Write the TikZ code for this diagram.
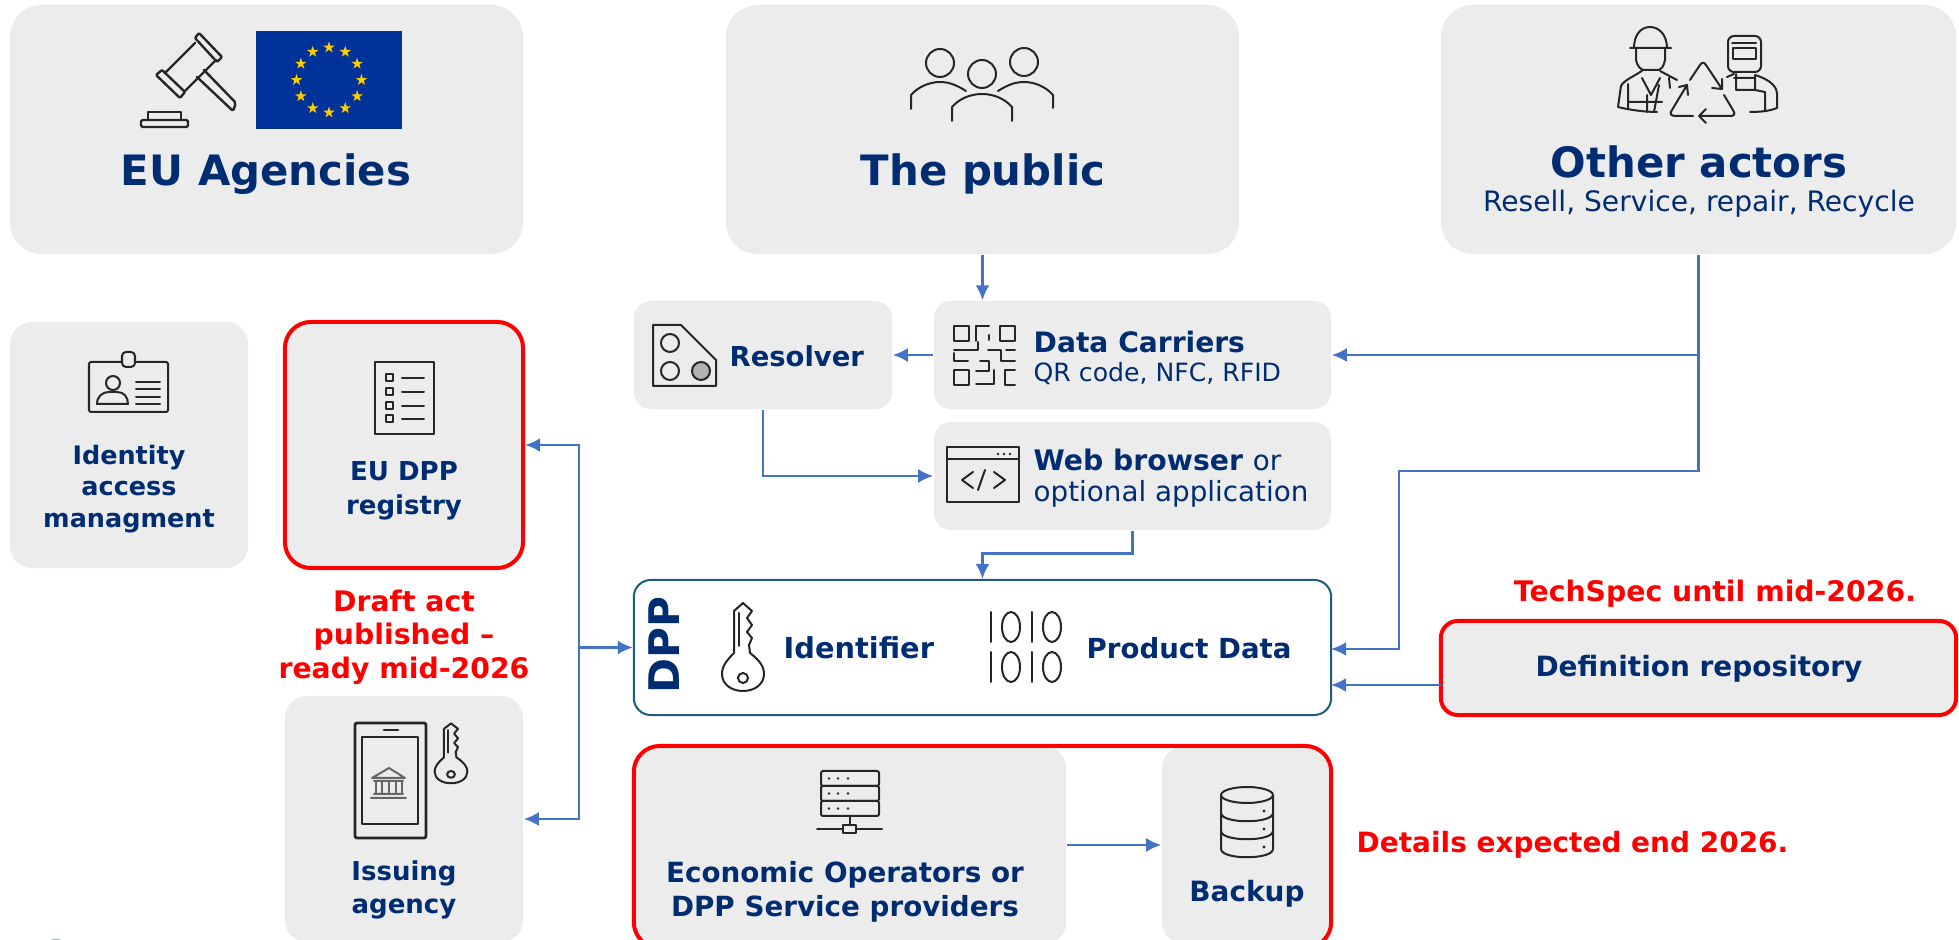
\documentclass[tikz,border=0pt]{standalone}
\usepackage{fontspec}
\setmainfont{DejaVu Sans}
\usepackage{xcolor}
\definecolor{navy}{HTML}{002D72}
\definecolor{boxgray}{HTML}{ECECEC}
\definecolor{flow}{HTML}{4472C4}
\definecolor{dppline}{HTML}{1F5C80}
\definecolor{euflag}{HTML}{003399}
\definecolor{eustar}{HTML}{FFCC00}
\usetikzlibrary{arrows.meta,shapes.geometric}
\tikzset{
  box/.style={fill=boxgray,rounded corners=0.17cm,inner sep=0pt},
  bigbox/.style={box,rounded corners=0.32cm},
  redbox/.style={box,draw=red,line width=0.04cm,rounded corners=0.26cm},
  title/.style={text=navy,font=\bfseries\fontsize{11.9}{14}\selectfont,inner sep=0pt},
  head/.style={text=navy,font=\bfseries\fontsize{7.9}{9.6}\selectfont,inner sep=0pt,align=center},
  sub/.style={text=navy,font=\fontsize{7.15}{9}\selectfont,inner sep=0pt},
  note/.style={text=red,font=\bfseries\fontsize{8.05}{9.5}\selectfont,inner sep=0pt,align=center},
  link/.style={draw=flow,line width=0.025cm,-{Latex[length=0.15cm,width=0.14cm]}},
  icon/.style={draw=black!85,line width=0.02cm,line join=round,line cap=round},
  pics/keyicon/.style={code={
    \draw[icon] (-9,-20) -- (-9,-62) -- (0,-70) -- (9,-62) -- (4,-55) -- (9,-48) -- (4,-41)
      -- (9,-35) -- (6,-28) -- (7,-20)
      .. controls (16,-13) and (21,-7) .. (21,1) .. controls (21,11) and (12,18) .. (0,18)
      .. controls (-12,18) and (-21,11) .. (-21,1) .. controls (-21,-7) and (-16,-13) .. (-9,-20);
    \draw[icon] (-4,-60) -- (-4,-27);
    \draw[icon] (0,5) circle (5);
  }}
}

\begin{document}
\begin{tikzpicture}[x=0.01cm,y=-0.01cm]
  \clip (0,0) rectangle (1959,940);

  % top row
  \node[bigbox,minimum width=5.13cm,minimum height=2.49cm] (agencies) at (266.5,129.5) {};
  \node[bigbox,minimum width=5.13cm,minimum height=2.49cm] (public) at (982.5,129.5) {};
  \node[bigbox,minimum width=5.15cm,minimum height=2.49cm] (actors) at (1698.5,129.5) {};
  \node[title] (agenciestext) at (266,174) {EU Agencies};
  \node[title] (publictext) at (983,174) {The public};
  \node[title] (actorstext) at (1699,162) {Other actors};
  \node[sub,font=\fontsize{8}{9}\selectfont] (actorssub) at (1699,204) {Resell, Service, repair, Recycle};

  % flag
  \fill[euflag] (256,31) rectangle (402,129);
  \foreach \i in {0,30,...,330}
    \node[star,star points=5,star point ratio=2.6,fill=eustar,inner sep=0pt,minimum size=0.12cm] (star\i) at ({329+32.5*cos(\i)},{80+32.5*sin(\i)}) {};

  % gavel
  \draw[icon,line width=0.024cm,rounded corners=0.01cm] (195,38) -- (199,33) -- (222,57) -- (217,62) -- cycle;
  \draw[icon,line width=0.024cm,rounded corners=0.01cm] (156,75) -- (162,70) -- (185,92) -- (180,98) -- cycle;
  \draw[icon,line width=0.024cm] (195,43) -- (166,72) (216,60) -- (185,91);
  \draw[icon,line width=0.024cm,rounded corners=0.02cm] (197,77) -- (233,111) -- (236,103) -- (204,70);
  \draw[icon,line width=0.024cm,rounded corners=0.015cm] (141,120) rectangle (188,127);
  \draw[icon,line width=0.024cm] (148,120) -- (148,112) -- (181,112) -- (181,120);

  % people
  \draw[icon] (940,63) circle (14) (982,74) circle (14) (1024,62) circle (14);
  \draw[icon] (911,109) -- (911,95) .. controls (918,87) and (929,82) .. (940,82) .. controls (950,82) and (958,86) .. (966,91);
  \draw[icon] (1053,108) -- (1053,95) .. controls (1046,87) and (1035,82) .. (1024,82) .. controls (1014,82) and (1006,86) .. (998,91);
  \draw[icon] (952,121) -- (952,107) .. controls (959,99) and (970,94) .. (982,94) .. controls (994,94) and (1005,99) .. (1012,107) -- (1012,121);

  % workers and recycling
  \draw[icon] (1630,48) -- (1671,48) (1634,48) .. controls (1634,36) and (1640,27) .. (1650,27) .. controls (1660,27) and (1667,36) .. (1667,48);
  \draw[icon] (1636,48) -- (1636,60) .. controls (1637,66) and (1641,70) .. (1644,70) -- (1658,70) .. controls (1661,70) and (1664,66) .. (1665,60) -- (1665,48);
  \draw[icon] (1643,70) .. controls (1635,76) and (1624,80) .. (1621,86) -- (1618,107) .. controls (1630,110) and (1645,112) .. (1657,112);
  \draw[icon] (1660,71) -- (1677,80) (1669,78) -- (1670,88);
  \draw[icon] (1628,84) -- (1628,108) (1642,78) -- (1651,95) -- (1660,78) (1647,95) -- (1647,112) (1659,85) -- (1654,112) (1628,102) -- (1662,102);
  \draw[icon,rounded corners=0.06cm] (1728,36) rectangle (1761,72);
  \draw[icon] (1732,43) -- (1756,43) (1733,48) rectangle (1756,59);
  \draw[icon] (1727,77) -- (1734,74) (1734,78) -- (1755,78) (1736,74) -- (1736,90) -- (1755,90) (1755,75) -- (1755,90) -- (1765,92) -- (1765,110);
  \draw[icon] (1755,75) .. controls (1768,79) and (1776,85) .. (1777,93) -- (1777,108) .. controls (1770,111) and (1760,112) .. (1750,112);
  \draw[icon] (1690,80) -- (1700,65) .. controls (1702,62) and (1704,62) .. (1706,65) -- (1722,89) (1712,88) -- (1722,89) -- (1722,79);
  \draw[icon] (1724,95) -- (1733,110) .. controls (1736,115) and (1734,116) .. (1729,116) -- (1699,116) (1706,109) -- (1699,116) -- (1706,123);
  \draw[icon] (1693,116) -- (1676,116) .. controls (1671,116) and (1669,114) .. (1672,110) -- (1687,85) (1679,87) -- (1687,85) -- (1688,95);

  % data side, middle column
  \node[box,minimum width=2.58cm,minimum height=1.08cm] (resolver) at (763,355) {};
  \node[box,minimum width=3.97cm,minimum height=1.08cm] (carriers) at (1132.5,355) {};
  \node[box,minimum width=3.97cm,minimum height=1.08cm] (browser) at (1132.5,476) {};
  \node[head,anchor=west,font=\bfseries\fontsize{7.8}{9.6}\selectfont] (resolvertext) at (729,356) {Resolver};
  \node[head,anchor=west,font=\bfseries\fontsize{8}{9.6}\selectfont] (carrierstext) at (1033,342) {Data Carriers};
  \node[sub,anchor=west] (carrierssub) at (1033,374) {QR code, NFC, RFID};
  \node[sub,anchor=west] (browsertext) at (1033,460) {\fontsize{8.05}{9}\selectfont\bfseries Web browser \fontsize{7.9}{9}\selectfont\mdseries or};
  \node[sub,anchor=west,font=\fontsize{7.9}{9}\selectfont] (browsersub) at (1033,494) {optional application};

  % resolver icon
  \draw[icon] (653,325) -- (681,325) -- (716,360) -- (716,386) -- (653,386) -- cycle;
  \draw[icon] (670,343) circle (9) (670,371) circle (9);
  \draw[icon,fill=black!30] (701,371) circle (9);

  % qr icon
  \draw[icon,line cap=butt] (954,326) rectangle (969,341) (1000,326) rectangle (1015,341) (954,370) rectangle (969,385);
  \draw[icon] (976,341) -- (976,326) -- (989,326) (989,335) -- (989,340) (954,350) -- (978,350) -- (978,342);
  \draw[icon] (988,350) -- (1001,350) -- (1001,361) -- (1015,361) (1006,350) -- (1015,350);
  \draw[icon] (954,353) -- (954,361) -- (968,361) (976,371) -- (989,371) -- (989,361) -- (980,361);
  \draw[icon] (976,384) -- (994,384) -- (994,370) (1005,370) -- (1015,370) (1005,370) -- (1005,385) -- (1015,385);

  % browser icon
  \draw[icon] (947,447) rectangle (1019,502) (947,459) -- (1019,459);
  \fill[black!85] (998,454) circle (1.3) (1004,454) circle (1.3) (1010,454) circle (1.3);
  \draw[icon] (973,472) -- (962,480) -- (973,488) (985,470) -- (978,490) (994,472) -- (1005,480) -- (994,488);

  % left column
  \node[box,minimum width=2.38cm,minimum height=2.46cm,rounded corners=0.22cm] (identity) at (129,445) {};
  \node[redbox,minimum width=2.38cm,minimum height=2.46cm] (registry) at (404,445) {};
  \node[box,minimum width=2.38cm,minimum height=2.46cm,rounded corners=0.22cm] (issuing) at (404,819) {};
  \node[head,font=\bfseries\fontsize{7.25}{8.85}\selectfont] (identitytext) at (129,489) {Identity\\access\\managment};
  \node[head,font=\bfseries\fontsize{7.4}{9.6}\selectfont] (registrytext) at (404,491) {EU DPP\\registry};
  \node[head,font=\bfseries\fontsize{7.4}{9.6}\selectfont] (issuingtext) at (404,890) {Issuing\\agency};
  \node[note] (drafttext) at (404,637) {Draft act\\published --\\ready mid-2026};

  % id card icon
  \draw[icon,rounded corners=0.02cm] (89,362) rectangle (168,412);
  \draw[icon,fill=boxgray,rounded corners=0.04cm] (122,352) rectangle (135,367);
  \draw[icon] (113,383) circle (7);
  \draw[icon] (97,404) .. controls (97,396) and (103,392) .. (109,392) -- (117,392) .. controls (124,392) and (128,397) .. (128,404) -- cycle;
  \foreach \y in {382,389,397,404} \draw[icon] (136,\y) -- (160,\y);

  % list icon
  \draw[icon] (375,362) rectangle (434,434);
  \foreach \y in {378,392,406,419} {
    \draw[icon] (386,\y-3.5) rectangle (393,\y+3.5);
    \draw[icon] (402,\y) -- (424,\y);
  }

  % phone with key icon
  \draw[icon,line width=0.028cm,rounded corners=0.02cm] (355,723) rectangle (426,838);
  \draw[icon,line width=0.028cm] (362,737) rectangle (418,824);
  \draw[icon,line width=0.028cm] (384,730) -- (398,730);
  \draw[icon,draw=black!60] (372,778) -- (389,768) -- (405,778) -- cycle (371,798) -- (406,798) (374,794) -- (403,794) (374,781) -- (403,781);
  \foreach \x in {376,382,389,396,402} \draw[icon,draw=black!60] (\x,781) -- (\x,794);
  \pic[xscale=0.78,yscale=0.68] at (451,771) {keyicon};

  % dpp
  \node[fill=white,draw=dppline,line width=0.02cm,rounded corners=0.17cm,minimum width=6.97cm,minimum height=1.35cm,inner sep=0pt] (dpp) at (982.5,647.5) {};
  \node[title,rotate=90,font=\bfseries\fontsize{12}{14}\selectfont] (dpptext) at (664,645) {DPP};
  \node[head,font=\bfseries\fontsize{8.2}{9.6}\selectfont,anchor=west] (idtext) at (783,648) {Identifier};
  \node[head,font=\bfseries\fontsize{7.85}{9.6}\selectfont,anchor=west] (datatext) at (1086,648) {Product Data};
  \pic at (743,673) {keyicon};
  \foreach \y in {627,667} {
    \draw[icon] (991,\y-15) -- (991,\y+15) (1032,\y-15) -- (1032,\y+15);
    \draw[icon] (1011,\y) ellipse (9 and 15) (1052,\y) ellipse (9 and 15);
  }

  % definition repository
  \node[redbox,rounded corners=0.17cm,minimum width=5.15cm,minimum height=0.94cm] (repository) at (1698.5,668) {};
  \node[head,font=\bfseries\fontsize{7.95}{9.6}\selectfont] (repositorytext) at (1699,669) {Definition repository};
  \node[note] (techtext) at (1715,594) {TechSpec until mid-2026.};

  % operators and backup
  \node[box,minimum width=4.32cm,minimum height=1.98cm,rounded corners=0.22cm] (operators) at (850,845) {};
  \node[box,minimum width=1.69cm,minimum height=1.98cm,rounded corners=0.22cm] (backup) at (1246.5,845) {};
  \node[draw=red,line width=0.04cm,rounded corners=0.26cm,minimum width=6.97cm,minimum height=2.02cm,inner sep=0pt] (frame) at (982.5,847) {};
  \node[head] (operatorstext) at (845,892) {Economic Operators or\\DPP Service providers};
  \node[head,font=\bfseries\fontsize{7.95}{9.6}\selectfont] (backuptext) at (1247,894) {Backup};
  \node[note,anchor=west,font=\bfseries\fontsize{7.95}{9.5}\selectfont] (detailstext) at (1356,845) {Details expected end 2026.};

  % server icon
  \foreach \y in {771,786,801} {
    \draw[icon,rounded corners=0.02cm] (821,\y) rectangle (879,\y+15);
    \fill[black!85] (829,\y+7.5) circle (1.3) (838,\y+7.5) circle (1.3) (848,\y+7.5) circle (1.3);
  }
  \draw[icon] (850,816) -- (850,825) (817,829) -- (843,829) (856,829) -- (882,829);
  \draw[icon] (843,825) rectangle (856,833);

  % database icon
  \draw[icon] (1247,795) ellipse (26 and 8);
  \draw[icon] (1221,795) -- (1221,849) .. controls (1221,860) and (1273,860) .. (1273,849) -- (1273,795);
  \draw[icon] (1221,813) .. controls (1221,824) and (1273,824) .. (1273,813);
  \draw[icon] (1221,831) .. controls (1221,842) and (1273,842) .. (1273,831);
  \fill[black!85] (1264,811) circle (1.6) (1264,829) circle (1.6) (1264,847) circle (1.6);

  % logo remnant at the lower edge
  \fill[navy] (56,942) ellipse (9 and 2.5);

  % connectors
  \coordinate (bend) at (1399,471);
  \coordinate (dppin) at (1331,649);
  \coordinate (bus) at (579,647.5);
  \coordinate (repout) at (1441,685);
  \coordinate (repin) at (1331,685);
  \draw[link] (public.south) -- (public.south |- carriers.north);
  \draw[link] (carriers.west) -- (resolver.east);
  \draw[link] (actors.south) |- (carriers.east);
  \draw[link] (actors.south) |- (bend) |- (dppin);
  \draw[link] (resolver.south) |- (browser.west);
  \draw[link] (browser.south) -- ++(0,23) -| (dpp.north);
  \draw[link] (repout) -- (repin);
  \draw[link] (bus) -- (dpp.west);
  \draw[link] (bus) |- (registry.east);
  \draw[link] (bus) |- (issuing.east);
  \draw[link] (operators.east) -- (backup.west);
\end{tikzpicture}
\end{document}
